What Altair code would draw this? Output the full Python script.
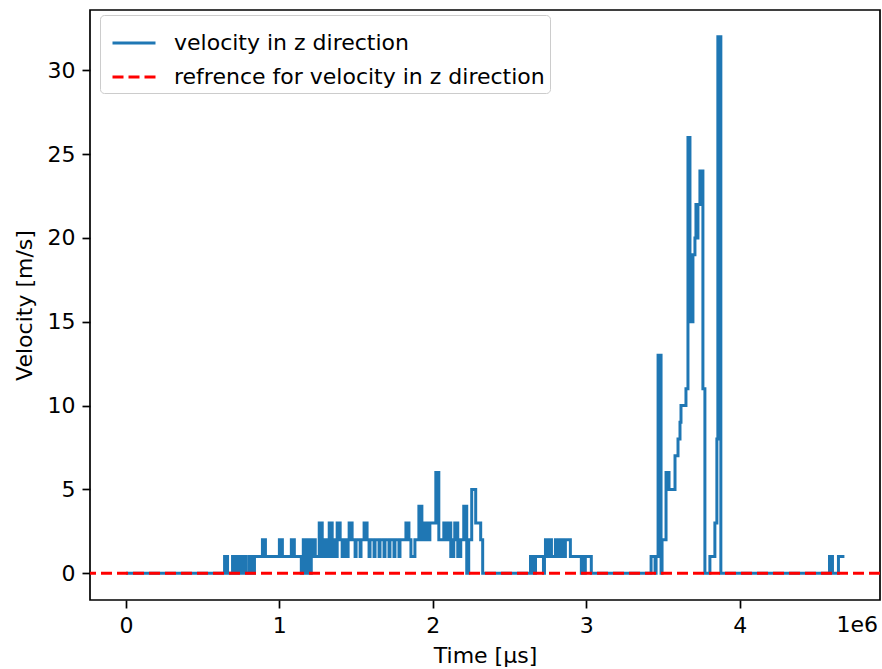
import altair as alt
import pandas as pd

series_names = ["velocity in z direction", "refrence for velocity in z direction"]

time_us = [
    0, 643000, 662400, 694900, 714300, 720800, 740300, 746800, 760000, 773000,
    785000, 805300, 818200, 837700, 889700, 909200, 1000100, 1019600, 1078000, 1097500,
    1143000, 1155900, 1168900, 1181900, 1194900, 1207900, 1214400, 1233900, 1259800, 1279300,
    1292300, 1305300, 1324800, 1344300, 1350800, 1363700, 1376700, 1396200, 1409200, 1422200,
    1435200, 1448000, 1454700, 1474100, 1493600, 1500000, 1526100, 1532000, 1552100, 1571500,
    1584500, 1591000, 1617000, 1623500, 1649500, 1656000, 1681900, 1688400, 1714400, 1720900,
    1746900, 1753400, 1779400, 1785900, 1824800, 1844300, 1857300, 1883300, 1909200, 1928700,
    1941700, 1954700, 1961200, 1974200, 1980700, 2019600, 2039100, 2071600, 2091100, 2097600,
    2117000, 2136500, 2143000, 2162500, 2182000, 2201500, 2221000, 2233900, 2253400, 2279400,
    2311900, 2324900, 2636600, 2656000, 2669000, 2721000, 2727500, 2734000, 2753500, 2760000,
    2773000, 2799000, 2812000, 2818400, 2831400, 2837900, 2857400, 2863900, 2896300, 2967800,
    2974300, 2987200, 2993700, 3032700, 3422300, 3448300, 3454800, 3467800, 3487300, 3493800,
    3519700, 3526200, 3532700, 3539200, 3578200, 3597700, 3610700, 3617200, 3649600, 3662600,
    3675600, 3682100, 3688600, 3695100, 3708100, 3714600, 3721100, 3727600, 3740500, 3760000,
    3773000, 3805500, 3838000, 3851000, 3857400, 3876900, 4584800, 4604200, 4643200, 4682200,
]
velocity = [
    0, 1, 0, 1, 0, 1, 0, 1, 0, 1,
    0, 1, 0, 1, 2, 1, 2, 1, 2, 1,
    0, 2, 0, 2, 0, 1, 2, 1, 3, 1,
    2, 1, 3, 1, 2, 1, 3, 2, 1, 2,
    1, 2, 3, 2, 1, 2, 1, 2, 3, 2,
    1, 2, 1, 2, 1, 2, 1, 2, 1, 2,
    1, 2, 1, 2, 3, 2, 1, 2, 4, 2,
    3, 2, 3, 2, 3, 6, 2, 3, 2, 3,
    1, 2, 3, 1, 2, 4, 0, 2, 5, 3,
    2, 0, 1, 0, 1, 0, 1, 2, 1, 2,
    1, 2, 1, 2, 1, 2, 1, 2, 1, 0,
    1, 0, 1, 0, 1, 0, 1, 13, 0, 2,
    6, 5, 6, 5, 7, 8, 9, 10, 11, 26,
    15, 16, 15, 19, 20, 22, 20, 22, 24, 11,
    0, 1, 3, 8, 32, 0, 1, 0, 1, 1,
]
ref_level = [0]
x_ticks = [0, 1000000, 2000000, 3000000, 4000000]
y_ticks = [0, 5, 10, 15, 20, 25, 30]

W, H = 790, 590
FONT = "DejaVu Sans"
FS = 22

line_df = pd.DataFrame({"t": time_us, "v": velocity, "series": series_names[0]})
ref_df = pd.DataFrame({"v": ref_level, "series": [series_names[1]]})

legend = alt.Legend(
    title=None, orient="none", legendX=10, legendY=5, titlePadding=0,
    symbolType="stroke", symbolSize=1849, symbolStrokeWidth=3, symbolOffset=6,
    labelFontSize=FS, labelFont=FONT, labelColor="black", labelOffset=17, labelLimit=0,
    padding=5, rowPadding=-1, strokeColor="#cccccc", cornerRadius=4,
    fillColor="white",
)
color_enc = alt.Color("series:N", scale=alt.Scale(domain=series_names, range=["#1f77b4", "#ff0000"]), legend=legend)
dash_enc = alt.StrokeDash("series:N", scale=alt.Scale(domain=series_names, range=[[1, 0], [11, 5]]), legend=legend)

x_enc = alt.X(
    "t:Q",
    scale=alt.Scale(domain=[-234000, 4914000], nice=False, zero=False),
    axis=alt.Axis(values=x_ticks, labelExpr="format(datum.value / 1000000, 'd')", title="Time [µs]"),
)
y_enc = alt.Y(
    "v:Q",
    scale=alt.Scale(domain=[-1.6, 33.6], nice=False, zero=False),
    axis=alt.Axis(values=y_ticks, title="Velocity [m/s]"),
)

line = alt.Chart(line_df).mark_line(interpolate="step-after", strokeWidth=3).encode(
    x=x_enc, y=y_enc, color=color_enc, strokeDash=dash_enc
)
ref = alt.Chart(ref_df).mark_rule(strokeWidth=3).encode(
    y=alt.Y("v:Q"), color=color_enc, strokeDash=dash_enc
)
offset_txt = alt.Chart(alt.Data(values=[{"s": "1e6"}])).mark_text(
    align="right", baseline="top", font=FONT, fontSize=FS, color="black"
).encode(x=alt.value(W - 2), y=alt.value(H + 15), text="s:N")

chart = alt.layer(line, ref, offset_txt).properties(
    width=W, height=H,
    autosize=alt.AutoSizeParams(type="none"),
    padding={"left": 90, "top": 10, "right": 2, "bottom": 69},
).configure_view(stroke="black", strokeWidth=1.7).configure_axis(
    grid=False, domain=False, tickColor="black", tickWidth=1.7, tickSize=8,
    labelFont=FONT, labelFontSize=FS, labelColor="black", labelPadding=7,
    titleFont=FONT, titleFontSize=FS, titleFontWeight="normal", titleColor="black",
).configure_axisY(titlePadding=11).configure_axisX(titlePadding=9)

chart.save("out.html", embed_options={"renderer": "svg", "actions": False})
